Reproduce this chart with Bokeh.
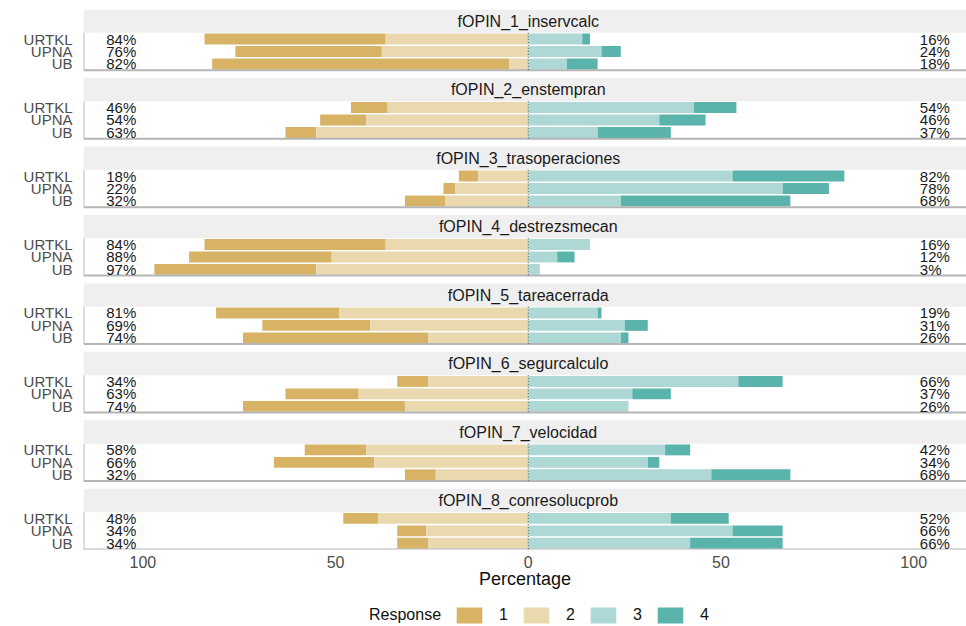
from bokeh.plotting import figure
from bokeh.layouts import column
from bokeh.models import Range1d, ColumnDataSource, FixedTicker, Legend, LegendItem
from bokeh.core.properties import value
from bokeh.embed import file_html
from bokeh.resources import INLINE

# ---------------- data ----------------
items = ["fOPIN_1_inservcalc", "fOPIN_2_enstempran", "fOPIN_3_trasoperaciones",
         "fOPIN_4_destrezsmecan", "fOPIN_5_tareacerrada", "fOPIN_6_segurcalculo",
         "fOPIN_7_velocidad", "fOPIN_8_conresolucprob"]
groups = ["URTKL", "UPNA", "UB"]
responses = ["1", "2", "3", "4"]
colors = ["#D8B365", "#EAD8AF", "#ADD8D5", "#5AB4AC"]

# percentages per item (rows) and group (URTKL, UPNA, UB)
resp1 = [[47, 38, 77], [9.5, 12, 8], [5, 3, 10.5], [47, 37, 42],
         [32, 28, 48], [8, 19, 42], [16, 26, 8], [9, 7.5, 8]]
resp2 = [[37, 38, 5], [36.5, 42, 55], [13, 19, 21.5], [37, 51, 55],
         [49, 41, 26], [26, 44, 32], [42, 40, 24], [39, 26.5, 26]]
resp3 = [[14, 19, 10], [43, 34, 18], [53, 66, 24], [16, 7.5, 3],
         [18, 25, 24], [54.5, 27, 26], [35.5, 31, 47.5], [37, 53, 42]]
resp4 = [[2, 5, 8], [11, 12, 19], [29, 12, 44], [0, 4.5, 0],
         [1, 6, 2], [11.5, 10, 0], [6.5, 3, 20.5], [15, 13, 24]]

x_ticks = [-100, -50, 0, 50, 100]
x_tick_labels = ["100", "50", "0", "50", "100"]

# ---------------- layout constants (vertical units) ----------------
PERIOD, STRIP, ROW0, ROWSTEP, BARH, AREA_BOT = 44, 15, 19, 8, 7, 39
XMIN, XMAX = -115.4, 113.7
YMAX = PERIOD * (len(items) - 1) + AREA_BOT
FONT = value("Liberation Sans")

ys, l1, r1, l2, r2, l3, r3, l4, r4, lab_l, lab_r = ([] for _ in range(11))
for k in range(len(items)):
    for j in range(len(groups)):
        a, b, c, d = resp1[k][j], resp2[k][j], resp3[k][j], resp4[k][j]
        ys.append(PERIOD * k + ROW0 + ROWSTEP * j)
        l2.append(-b); r2.append(0)
        l1.append(-(a + b)); r1.append(-b)
        l3.append(0); r3.append(c)
        l4.append(c); r4.append(c + d)
        lab_l.append(f"{int(round(a + b))}%")
        lab_r.append(f"{int(round(c + d))}%")

src = ColumnDataSource(dict(y=ys, l1=l1, r1=r1, l2=l2, r2=r2, l3=l3, r3=r3,
                            l4=l4, r4=r4, lab_l=lab_l, lab_r=lab_r,
                            xl=[-109.5] * len(ys), xr=[101.6] * len(ys)))

panel_src = ColumnDataSource(dict(
    name=items,
    s_top=[PERIOD * k for k in range(len(items))],
    s_bot=[PERIOD * k + STRIP for k in range(len(items))],
    s_mid=[PERIOD * k + STRIP / 2 for k in range(len(items))],
    a_bot=[PERIOD * k + AREA_BOT for k in range(len(items))],
    xmin=[XMIN] * len(items), xmax=[XMAX] * len(items),
    zero=[0] * len(items),
))

p = figure(width=966, height=591, x_range=Range1d(XMIN, XMAX),
           y_range=Range1d(YMAX, 0), output_backend="svg", toolbar_location=None,
           min_border_left=83, min_border_right=0, min_border_top=9,
           min_border_bottom=0)
p.outline_line_color = None
p.xgrid.visible = False
p.ygrid.visible = False
p.background_fill_color = "white"
p.border_fill_color = "white"

# strips
p.quad(left="xmin", right="xmax", top="s_top", bottom="s_bot", source=panel_src,
       fill_color="#EFEFEF", line_color=None)
p.text(x="zero", y="s_mid", text="name", source=panel_src, text_font=FONT,
       text_font_size="16px", text_color="#1A1A1A", text_align="center",
       text_baseline="middle")

# bars
for i, (lc, rc) in enumerate([("l1", "r1"), ("l2", "r2"), ("l3", "r3"), ("l4", "r4")]):
    p.hbar(y="y", left=lc, right=rc, height=BARH, source=src,
           fill_color=colors[i], line_color=None)

# panel frame lines
p.segment(x0="xmin", x1="xmax", y0="a_bot", y1="a_bot", source=panel_src,
          line_color="#B5B5B5", line_width=2)
p.segment(x0="xmin", x1="xmin", y0="s_bot", y1="a_bot", source=panel_src,
          line_color="#BDBDBD", line_width=2)
# center dotted line
p.segment(x0="zero", x1="zero", y0="s_bot", y1="a_bot", source=panel_src,
          line_color="#222222", line_width=1, line_dash="1 2", line_alpha=0.8)

# percentage labels
p.text(x="xl", y="y", text="lab_l", source=src, text_font=FONT, text_font_size="15px",
       text_color="#1A1A1A", text_align="left", text_baseline="middle")
p.text(x="xr", y="y", text="lab_r", source=src, text_font=FONT, text_font_size="15px",
       text_color="#1A1A1A", text_align="left", text_baseline="middle")

# y axis (group labels)
yax = p.yaxis[0]
yax.ticker = FixedTicker(ticks=ys)
ov = {}
for k in range(len(items)):
    for j, g in enumerate(groups):
        yv = PERIOD * k + ROW0 + ROWSTEP * j
        ov[yv] = g
        ov[str(yv)] = g
yax.major_label_overrides = ov
yax.axis_line_color = None
yax.major_tick_line_color = None
yax.minor_tick_line_color = None
yax.major_tick_out = 0
yax.major_tick_in = 0
yax.major_label_standoff = 11
yax.major_label_text_font = "Liberation Sans"
yax.major_label_text_font_size = "15px"
yax.major_label_text_color = "#4D4D4D"

# x axis
xax = p.xaxis[0]
xax.ticker = FixedTicker(ticks=x_ticks)
xov = {}
for t, l in zip(x_ticks, x_tick_labels):
    xov[t] = l
    xov[str(t)] = l
xax.major_label_overrides = xov
xax.axis_line_color = None
xax.major_tick_line_color = None
xax.minor_tick_line_color = None
xax.major_tick_out = 0
xax.major_tick_in = 0
xax.major_label_standoff = 6
xax.major_label_text_font = "Liberation Sans"
xax.major_label_text_font_size = "16px"
xax.major_label_text_color = "#4D4D4D"
xax.axis_label = "Percentage"
xax.axis_label_standoff = -2
xax.axis_label_text_font = "Liberation Sans"
xax.axis_label_text_font_size = "18px"
xax.axis_label_text_font_style = "normal"
xax.axis_label_text_color = "#111111"

# ---------------- legend figure ----------------
lg = figure(width=966, height=35, x_range=Range1d(0, 1), y_range=Range1d(0, 1),
            output_backend="svg", toolbar_location=None, min_border=0,
            min_border_left=83, min_border_right=0)
lg.axis.visible = False
lg.grid.visible = False
lg.outline_line_color = None
lg.background_fill_color = "white"
lg.border_fill_color = "white"

# legend-key renderers: one point each, kept outside the visible range
dummy = lg.rect(x=[5], y=[5], width=1, height=1, fill_alpha=0, line_alpha=0)
leg_items = [LegendItem(label="Response", renderers=[dummy])]
for i in range(4):
    r = lg.rect(x=[5], y=[5], width=1, height=1, fill_color=colors[i], line_color=None)
    leg_items.append(LegendItem(label=responses[i], renderers=[r]))
leg = Legend(items=leg_items, orientation="horizontal", glyph_width=32, glyph_height=20,
             label_standoff=14, spacing=12, padding=0, margin=0, label_width=9,
             label_text_font="Liberation Sans", label_text_font_size="16px",
             label_text_color="#111111", border_line_color=None,
             background_fill_alpha=0, location=(240, 1))
lg.add_layout(leg, "center")

layout = column(p, lg, spacing=0)
open("out.html", "w").write(file_html(layout, INLINE))
